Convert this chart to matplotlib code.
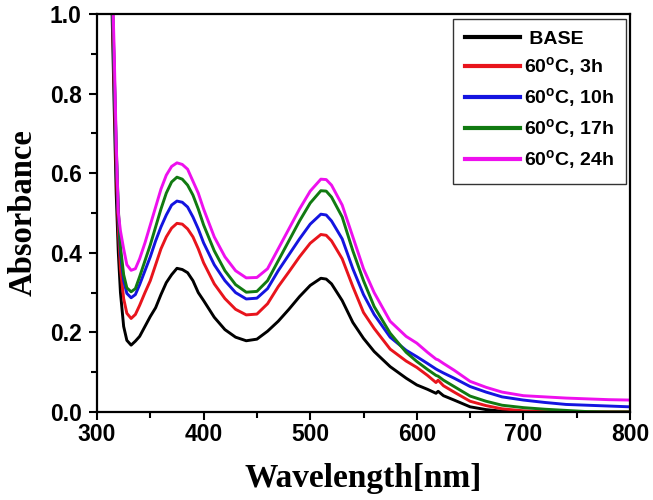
import matplotlib
matplotlib.use("Agg")
import matplotlib.pyplot as plt
from matplotlib.ticker import MultipleLocator, FormatStrFormatter

wavelength = [312, 314, 316, 318, 320, 322, 325, 328, 332, 336,
              340, 345, 350, 355, 360, 365, 370, 375, 380, 385,
              390, 395, 400, 410, 420, 430, 440, 450, 460, 470,
              480, 490, 500, 510, 515, 520, 530, 540, 550, 560,
              575, 590, 600, 610, 618, 620, 625, 635, 650, 665,
              680, 700, 720, 740, 760, 780, 800]

base = [1.2, 1.02, 0.78, 0.55, 0.40, 0.30, 0.215, 0.18, 0.168, 0.178,
        0.19, 0.215, 0.24, 0.262, 0.295, 0.325, 0.345, 0.361, 0.358, 0.35,
        0.33, 0.30, 0.28, 0.238, 0.207, 0.188, 0.179, 0.183, 0.203, 0.228,
        0.258, 0.29, 0.318, 0.336, 0.334, 0.322, 0.28, 0.225, 0.185, 0.152,
        0.114, 0.085, 0.068, 0.057, 0.047, 0.052, 0.041, 0.03, 0.013, 0.006,
        0.002, 0.0, 0.0, 0.0, 0.0, 0.0, 0.0]

h3 = [1.3, 1.06, 0.84, 0.62, 0.46, 0.36, 0.285, 0.248, 0.235, 0.245,
      0.268, 0.30, 0.33, 0.37, 0.41, 0.44, 0.462, 0.474, 0.472, 0.46,
      0.44, 0.41, 0.375, 0.322, 0.285, 0.258, 0.244, 0.246, 0.272, 0.315,
      0.352, 0.39, 0.424, 0.446, 0.444, 0.43, 0.385, 0.315, 0.25, 0.21,
      0.158, 0.128, 0.112, 0.092, 0.074, 0.08, 0.066, 0.05, 0.027, 0.016,
      0.008, 0.003, 0.001, 0.0, 0.0, 0.0, 0.0]

h10 = [1.3, 1.08, 0.87, 0.66, 0.50, 0.40, 0.33, 0.298, 0.287, 0.295,
       0.32, 0.355, 0.39, 0.43, 0.465, 0.495, 0.52, 0.53, 0.527, 0.515,
       0.49, 0.46, 0.425, 0.37, 0.33, 0.30, 0.284, 0.286, 0.31, 0.355,
       0.395, 0.435, 0.472, 0.497, 0.495, 0.48, 0.435, 0.36, 0.295, 0.245,
       0.188, 0.155, 0.139, 0.122, 0.108, 0.105, 0.098, 0.085, 0.064, 0.05,
       0.038, 0.030, 0.024, 0.019, 0.017, 0.015, 0.013]

h17 = [1.3, 1.09, 0.88, 0.67, 0.51, 0.415, 0.345, 0.312, 0.302, 0.31,
       0.34, 0.38, 0.42, 0.465, 0.51, 0.55, 0.578, 0.59, 0.585, 0.57,
       0.545, 0.51, 0.47, 0.405, 0.355, 0.32, 0.301, 0.303, 0.33, 0.38,
       0.43, 0.48, 0.525, 0.556, 0.555, 0.54, 0.49, 0.405, 0.33, 0.265,
       0.198, 0.15, 0.127, 0.107, 0.092, 0.09, 0.08, 0.064, 0.04, 0.027,
       0.017, 0.011, 0.007, 0.004, 0.001, 0.0, 0.0]

h24 = [1.35, 1.12, 0.92, 0.68, 0.50, 0.455, 0.41, 0.37, 0.356, 0.36,
       0.385, 0.425, 0.47, 0.515, 0.56, 0.595, 0.617, 0.626, 0.622, 0.61,
       0.58, 0.55, 0.51, 0.44, 0.39, 0.355, 0.337, 0.338, 0.36, 0.41,
       0.46, 0.51, 0.555, 0.585, 0.584, 0.57, 0.52, 0.44, 0.36, 0.30,
       0.228, 0.19, 0.173, 0.15, 0.133, 0.131, 0.122, 0.105, 0.077, 0.062,
       0.05, 0.041, 0.038, 0.035, 0.033, 0.031, 0.030]

labels = [" BASE", r"60$^\mathbf{o}$C, 3h", r"60$^\mathbf{o}$C, 10h",
          r"60$^\mathbf{o}$C, 17h", r"60$^\mathbf{o}$C, 24h"]
colors = ["#000000", "#e8141c", "#1414e0", "#117a11", "#ee10ee"]
series = [base, h3, h10, h17, h24]

plt.rcParams['font.family'] = ['Liberation Sans', 'DejaVu Sans']
plt.rcParams['mathtext.fontset'] = 'custom'
plt.rcParams['mathtext.bf'] = 'Liberation Sans:bold'
plt.rcParams['mathtext.rm'] = 'Liberation Sans'

fig = plt.figure(figsize=(6.53, 5.0), dpi=100)
ax = fig.add_axes([97/653, 88/500, 533/653, 398/500])

for y, c, lab in zip(series, colors, labels):
    ax.plot(wavelength, y, color=c, lw=2.1, label=lab, clip_on=True)

ax.set_xlim(300, 800)
ax.set_ylim(0.0, 1.0)
ax.xaxis.set_major_locator(MultipleLocator(100))
ax.xaxis.set_minor_locator(MultipleLocator(50))
ax.yaxis.set_major_locator(MultipleLocator(0.2))
ax.yaxis.set_minor_locator(MultipleLocator(0.1))
ax.yaxis.set_major_formatter(FormatStrFormatter('%.1f'))

ax.tick_params(which='major', direction='out', length=6, width=1.5,
               labelsize=16.5, top=False, right=False)
ax.tick_params(which='minor', direction='out', length=4, width=1.5,
               top=False, right=False)
ax.tick_params(axis='x', which='major', pad=2)
ax.tick_params(axis='y', which='major', pad=5)
for lab in ax.get_xticklabels() + ax.get_yticklabels():
    lab.set_fontweight('bold')
for sp in ax.spines.values():
    sp.set_linewidth(1.6)

ax.set_xlabel("Wavelength[nm]", family='Liberation Serif', fontweight='bold',
              fontsize=24, labelpad=12)
ax.set_ylabel("Absorbance", family='Liberation Serif', fontweight='bold',
              fontsize=23.5, labelpad=8)

leg = ax.legend(loc='upper right', bbox_to_anchor=(0.9925, 0.9874),
                borderaxespad=0.0,
                fancybox=False, frameon=True, edgecolor='black',
                handlelength=2.85, handletextpad=0.22, labelspacing=0.37,
                borderpad=0.6, prop={'weight': 'bold', 'size': 14})
leg.get_frame().set_linewidth(1.0)
for line in leg.get_lines():
    line.set_linewidth(3.0)

fig.savefig("out.png", dpi=100)
